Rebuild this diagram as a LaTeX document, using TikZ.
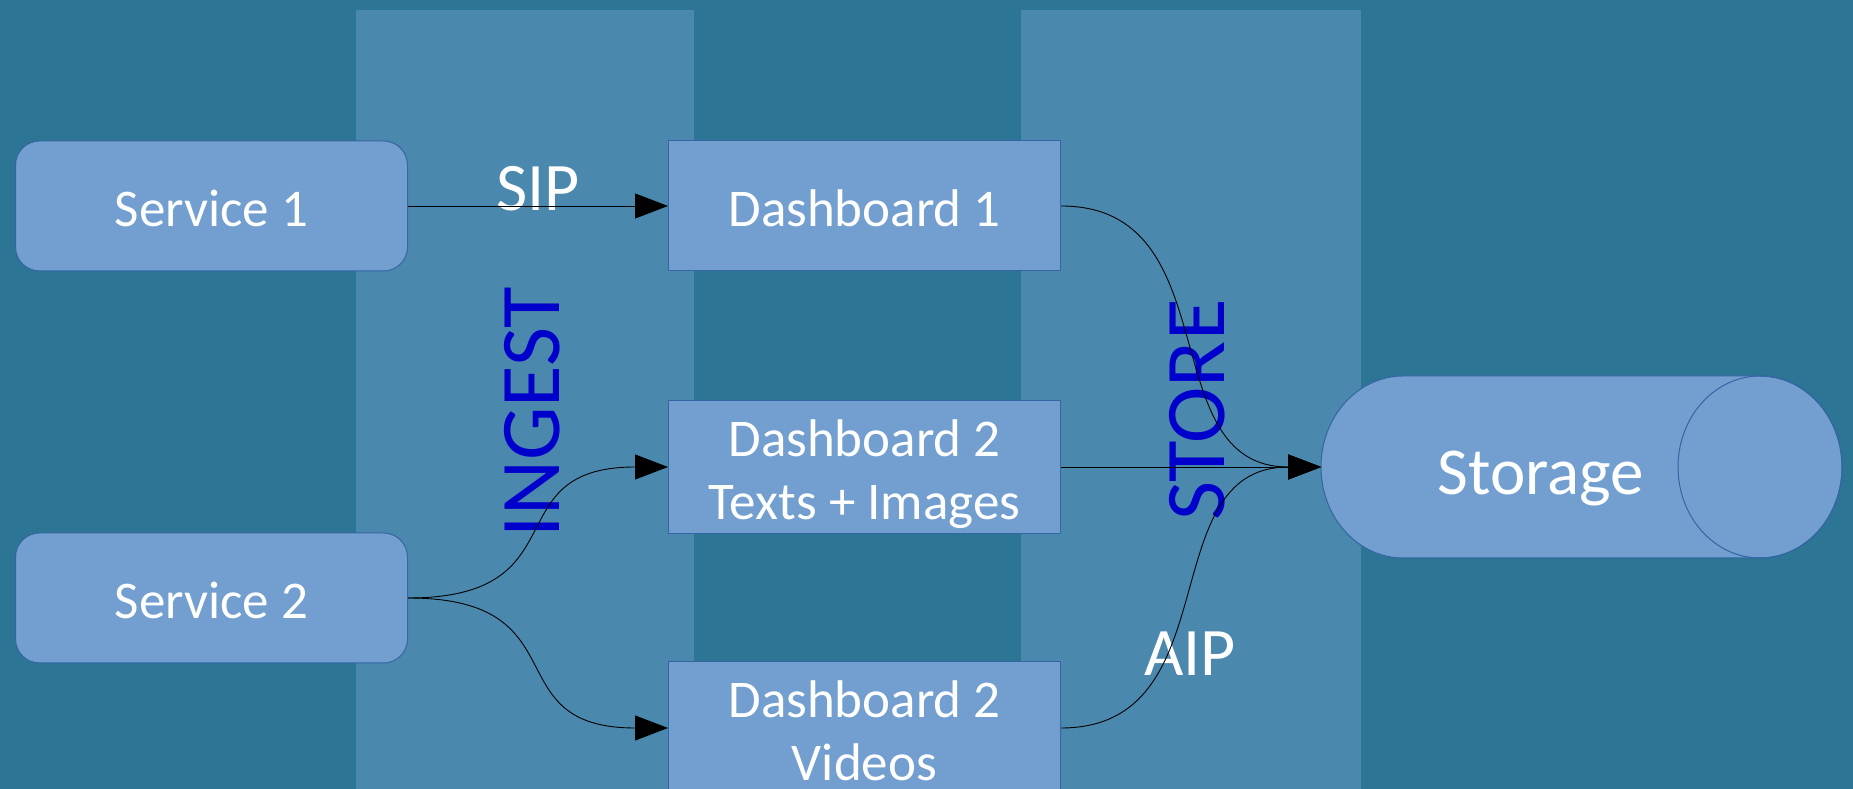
\documentclass[tikz,border=0pt]{standalone}
\usepackage{fontspec}
\setmainfont{Carlito}
\usetikzlibrary{arrows.meta}
\definecolor{bgc}{RGB}{44,117,148}
\definecolor{lanec}{RGB}{74,136,173}
\definecolor{boxc}{RGB}{114,159,207}
\definecolor{boxb}{RGB}{52,101,164}
\definecolor{lblblue}{RGB}{0,0,204}
\newcommand{\tstr}{\rule{0pt}{56pt}}
\newcommand{\bstr}{\rule[-14pt]{0pt}{0pt}}
\tikzset{
  box/.style={draw=boxb, line width=1pt, fill=boxc, text=white, inner sep=0pt,
    minimum width=392pt, minimum height=130pt, align=center,
    font=\fontsize{53}{63}\selectfont},
  rbox/.style={box, rounded corners=24pt},
  flowlbl/.style={text=white, inner sep=0pt, font=\fontsize{68}{80}\selectfont},
  lanelbl/.style={text=lblblue, inner sep=0pt, rotate=90, font=\fontsize{85}{96}\selectfont},
  conn/.style={draw=black, line width=0.9pt, -{Triangle[length=33pt,width=25pt]}}
}
\begin{document}
\begin{tikzpicture}[x=1pt,y=1pt]
\useasboundingbox (0,0) rectangle (1853,789);
\fill[bgc] (0,0) rectangle (1853,789);
\fill[lanec] (356,0) rectangle (694,779);
\fill[lanec] (1021,0) rectangle (1361,779);

\node[rbox] (s1) at (211.5,583) {\tstr Service 1\bstr};
\node[rbox] (s2) at (211.5,191) {\tstr Service 2\bstr};
\node[box] (d1) at (864.5,583) {\tstr Dashboard 1\bstr};
\node[box] (d2) at (864.5,322) {\tstr Dashboard 2\\Texts + Images\bstr};
\node[box] (d3) at (864.5,61) {\tstr Dashboard 2\\Videos\bstr};

% storage cylinder
\filldraw[fill=boxc, draw=boxb, line width=1pt]
  (1403,413) -- (1760,413) arc[start angle=90, end angle=-90, x radius=82, y radius=91]
  -- (1403,231) arc[start angle=270, end angle=90, x radius=82, y radius=91] -- cycle;
\draw[boxb, line width=1pt] (1760,322) ellipse [x radius=82, y radius=91];
\node[text=white, inner sep=0pt, font=\fontsize{67}{80}\selectfont] (st) at (1541,310) {Storage};
\coordinate (stw) at (1321,322);

\node[lanelbl] (ingest) at (532,377) {INGEST};
\node[lanelbl] (store) at (1197,379) {STORE};
\node[flowlbl] (sip) at (538,600) {SIP};
\node[flowlbl] (aip) at (1190,135) {AIP};

\draw[conn] (s1.east) -- (d1.west);
\draw[conn] (s2.east) .. controls +(175,0) and +(-175,0) .. (d2.west);
\draw[conn] (s2.east) .. controls +(175,0) and +(-175,0) .. (d3.west);
\draw[conn] (d1.east) .. controls +(170,0) and +(-170,0) .. (stw);
\draw[conn] (d2.east) -- (stw);
\draw[conn] (d3.east) .. controls +(170,0) and +(-170,0) .. (stw);
\end{tikzpicture}
\end{document}
